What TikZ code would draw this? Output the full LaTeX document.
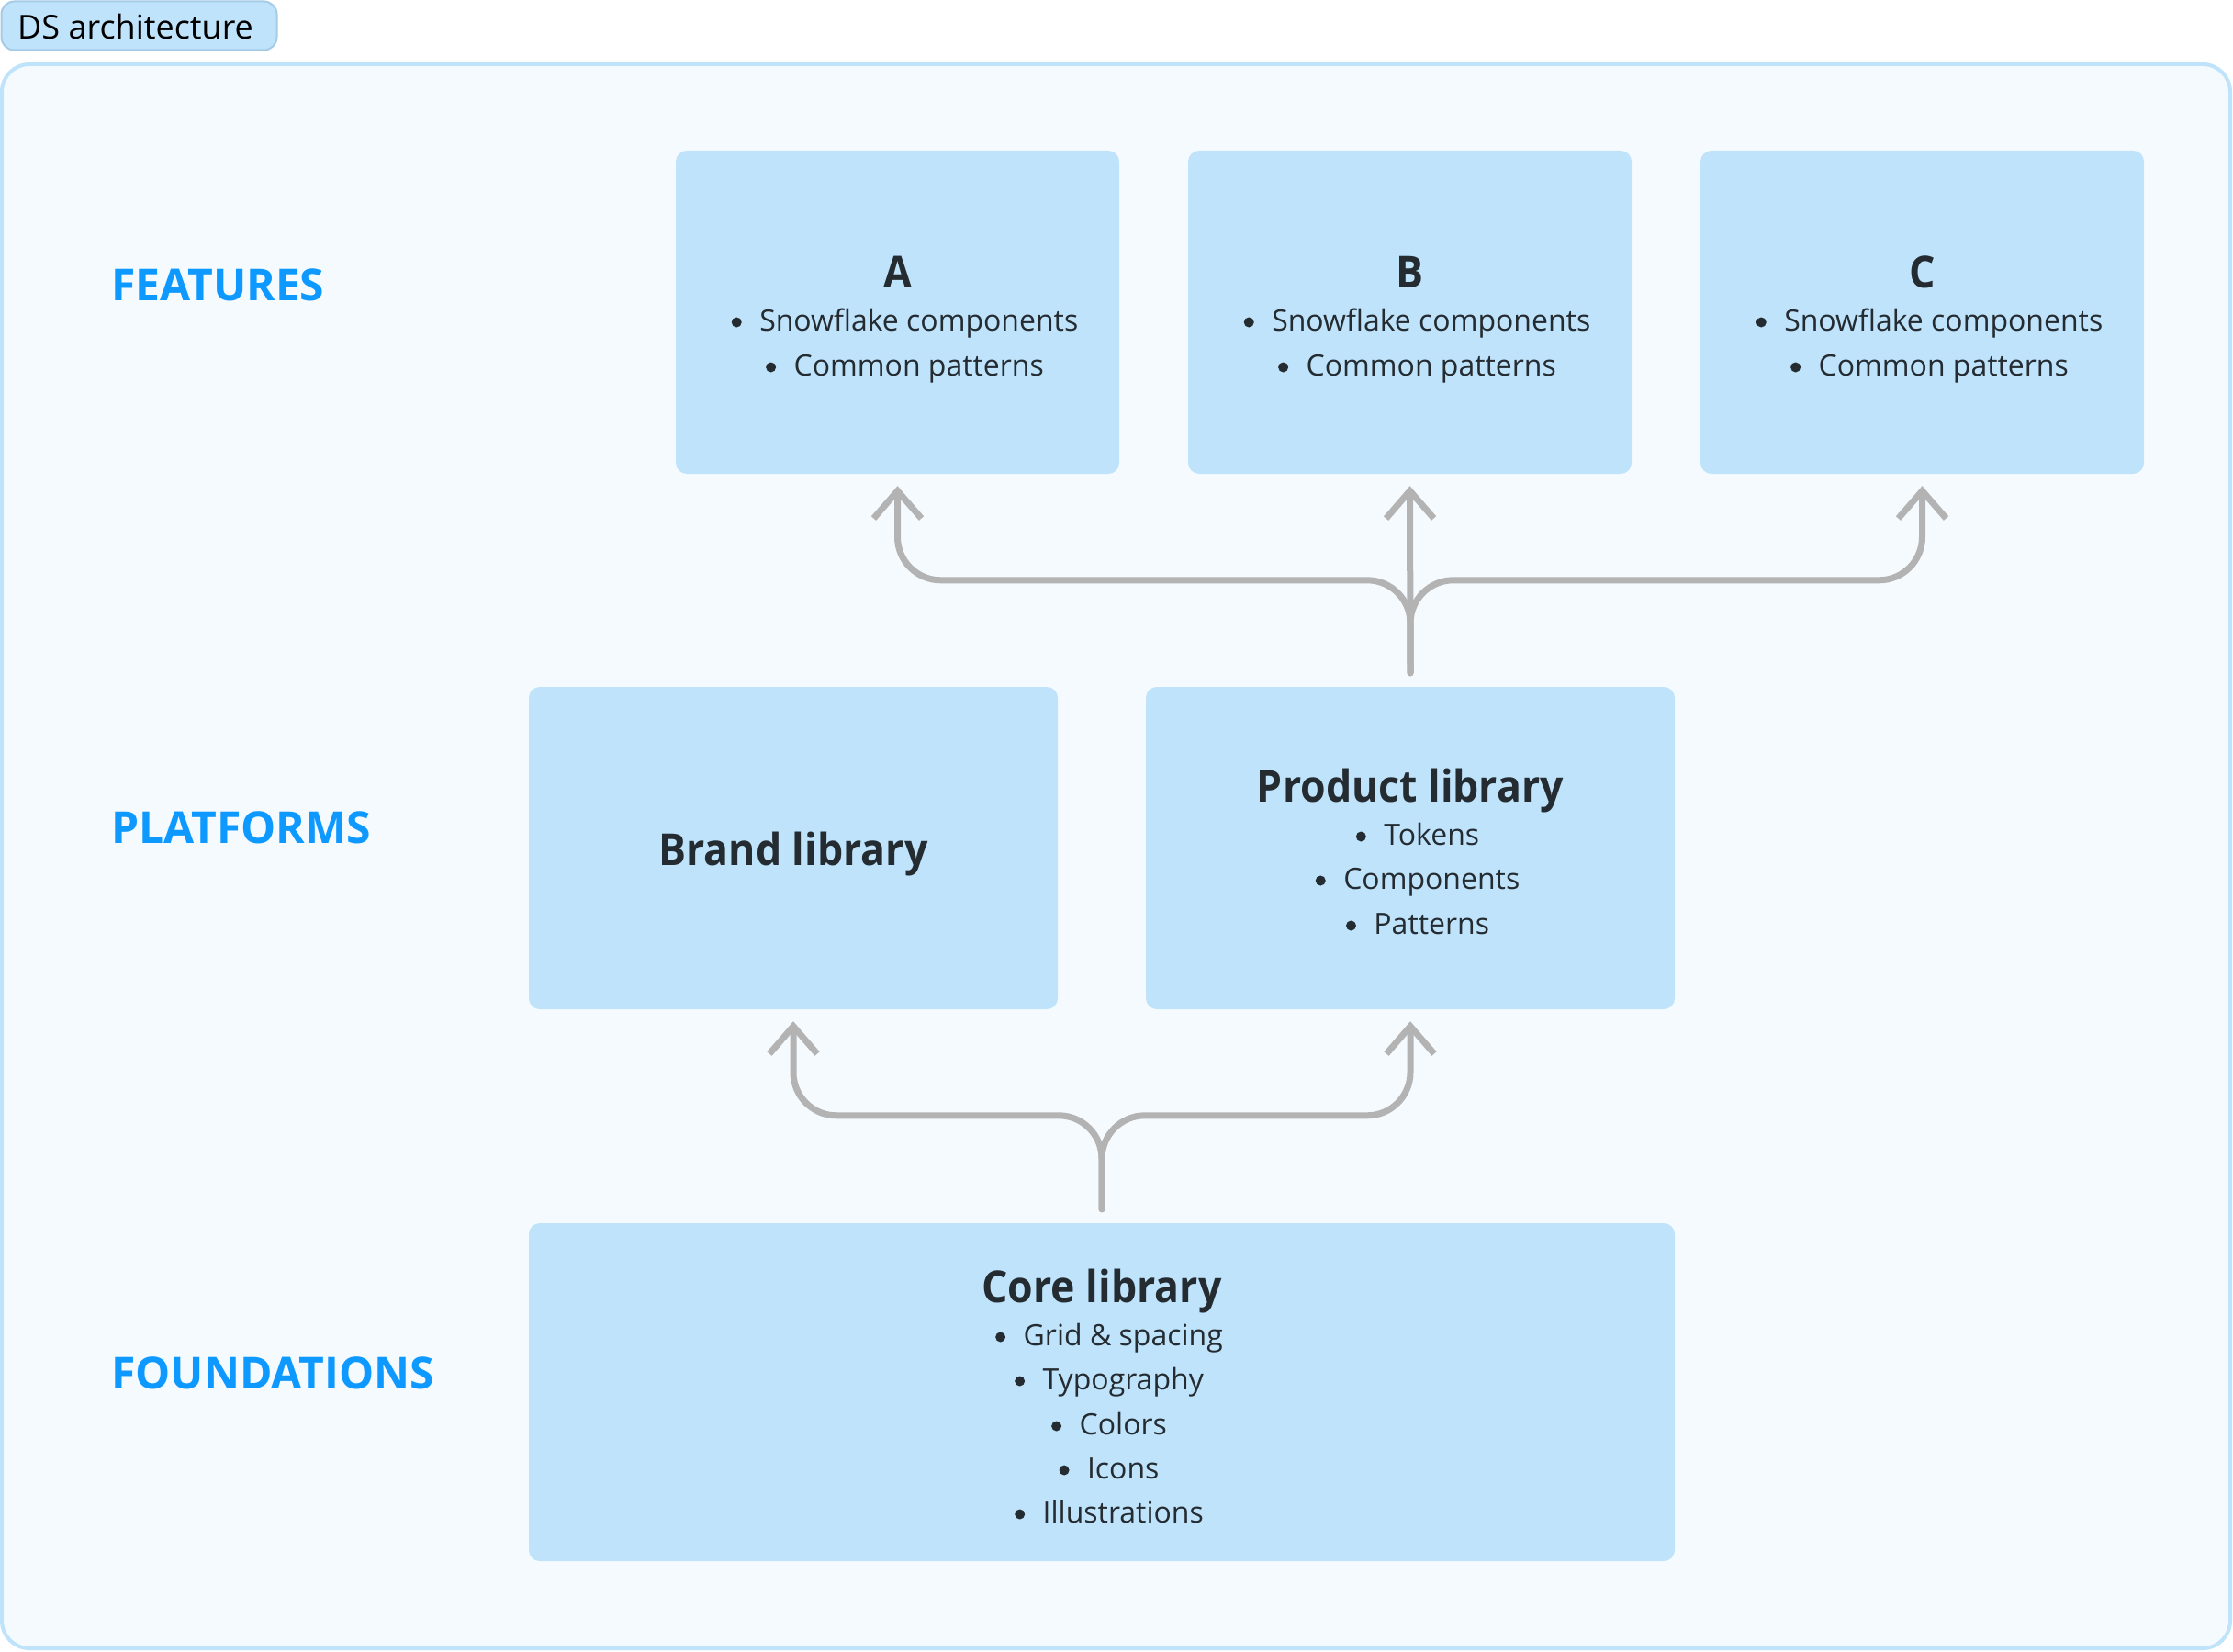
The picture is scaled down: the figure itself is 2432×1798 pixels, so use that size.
\documentclass[tikz,border=0pt]{standalone}
\usepackage{fontspec}
\setmainfont{Open Sans}
\newfontfamily\titlefont{Open Sans}[FakeStretch=0.93]
\usetikzlibrary{arrows.meta,calc}
\definecolor{boxblue}{HTML}{BEE3FB}
\definecolor{bgblue}{HTML}{F5FAFE}
\definecolor{tagline}{HTML}{A6CBE6}
\definecolor{labelblue}{HTML}{0D99FF}
\definecolor{ink}{HTML}{242B31}
\definecolor{conngray}{HTML}{B3B3B3}
\newcommand{\bul}[1]{\tikz[baseline=0pt,x=1pt,y=1pt]\fill[ink] (5.5,9) circle[radius=5.5pt];\hspace{19.5pt}#1}
\begin{document}
\begin{tikzpicture}[x=1pt,y=-1pt,
  box/.style={fill=boxblue, rounded corners=12pt, inner sep=0pt, draw=none},
  rowlabel/.style={anchor=base west, text=labelblue, font=\fontsize{48}{58}\selectfont\bfseries, inner sep=0pt},
  ttl/.style={anchor=base, text=ink, font=\fontsize{48}{58}\selectfont\titlefont\bfseries, inner sep=0pt},
  item/.style={anchor=base, text=ink, font=\fontsize{32}{38}\selectfont, inner sep=0pt},
  conn/.style={draw=conngray, line width=7pt, rounded corners=47pt, line cap=round, line join=round},
  tip/.style={-{Straight Barb[length=30pt,width=52pt]}}
]
\useasboundingbox (0,0) rectangle (2432,1798);
\fill[white] (0,0) rectangle (2432,1798);

% title tag
\node[fill=boxblue, draw=tagline, line width=2pt, rounded corners=14pt, minimum width=300pt, minimum height=53pt, inner sep=0pt] (tag) at (151.5,28) {};
\node[anchor=base west, inner sep=0pt, font=\fontsize{36}{42}\selectfont, text=black] (tagtext) at (19,43) {DS architecture};

% frame
\draw[fill=bgblue, draw=boxblue, line width=4pt, rounded corners=30pt] (2,70) rectangle (2429,1795);

% row labels
\node[rowlabel] (lfeat) at (121,327) {FEATURES};
\node[rowlabel] (lplat) at (121,918) {PLATFORMS};
\node[rowlabel] (lfound) at (121,1512) {FOUNDATIONS};

% feature boxes
\node[box, minimum width=483pt, minimum height=352pt] (A) at (977.5,340) {};
\node[box, minimum width=483pt, minimum height=352pt] (B) at (1535.5,340) {};
\node[box, minimum width=483pt, minimum height=352pt] (C) at (2093.5,340) {};
\foreach \n/\x in {A/977.5,B/1535.5,C/2093.5}{
  \node[ttl] (\n t) at (\x,313) {\n};
  \node[item] (\n i1) at (\x+8,360) {\bul{Snowflake components}};
  \node[item] (\n i2) at (\x+8,409) {\bul{Common patterns}};
}

% platform boxes
\node[box, minimum width=576pt, minimum height=351pt] (brand) at (864,923.5) {};
\node[ttl] (brandt) at (864,942) {Brand library};
\node[box, minimum width=576pt, minimum height=351pt] (prod) at (1536,923.5) {};
\node[ttl] (prodt) at (1536,873) {Product library};
\node[item] (prod1) at (1544,920) {\bul{Tokens}};
\node[item] (prod2) at (1544,968) {\bul{Components}};
\node[item] (prod3) at (1544,1017) {\bul{Patterns}};

% core box
\node[box, minimum width=1248pt, minimum height=368pt] (core) at (1200,1516) {};
\node[ttl] (coret) at (1200,1418) {Core library};
\node[item] (core1) at (1208,1465) {\bul{Grid \& spacing}};
\node[item] (core2) at (1208,1513) {\bul{Typography}};
\node[item] (core3) at (1208,1562) {\bul{Colors}};
\node[item] (core4) at (1208,1610) {\bul{Icons}};
\node[item] (core5) at (1208,1658) {\bul{Illustrations}};

% connectors: platforms -> features
\coordinate (jtop) at ($(prod.north)+(0,-15)$);
\coordinate (jbot) at ($(core.north)+(0,-15)$);
\draw[conn,tip] (jtop) -- ($(prod.north)+(0,-116)$) -| ($(A.south)+(0,13)$);
\draw[conn,tip] (jtop) -- ($(prod.north)+(0,-116)$) -| ($(C.south)+(0,13)$);
\draw[conn,tip] (jtop) -- ($(B.south)+(0,13)$);

% connectors: core -> platforms
\draw[conn,tip] (jbot) -- ($(core.north)+(0,-117)$) -| ($(brand.south)+(0,13)$);
\draw[conn,tip] (jbot) -- ($(core.north)+(0,-117)$) -| ($(prod.south)+(0,13)$);
\end{tikzpicture}
\end{document}
